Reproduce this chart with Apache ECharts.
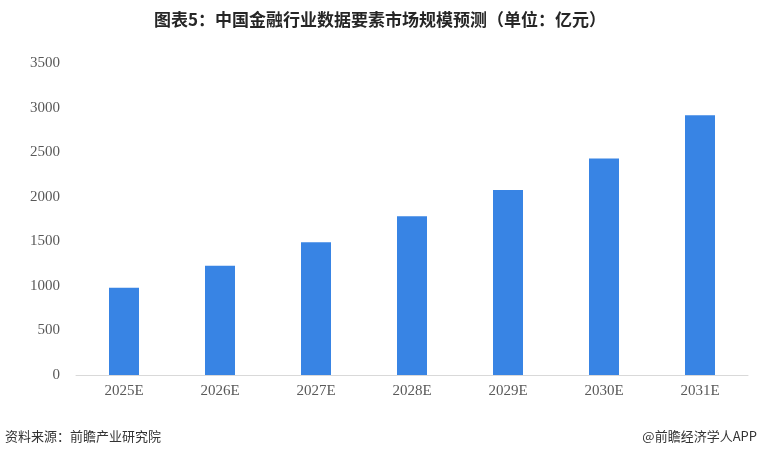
<!DOCTYPE html>
<html>
<head>
<meta charset="utf-8">
<script src="https://cdn.jsdelivr.net/npm/echarts@6/dist/echarts.min.js"></script>
<style>
  html, body { margin: 0; padding: 0; background: #fff; }
  #chart { width: 760px; height: 459px; }
</style>
</head>
<body>
<div id="chart"></div>
<script>
// 数据
const years = ['2025E', '2026E', '2027E', '2028E', '2029E', '2030E', '2031E']
const marketSize = [980, 1225, 1490, 1780, 2075, 2430, 2915]
const yTicks = [0, 3500, 500] // min, max, interval

const chart = echarts.init(document.getElementById('chart'))

const serif = '"Liberation Serif", "Times New Roman", serif'
const cjk = '"Noto Sans CJK SC", sans-serif'

const option = {
  animation: false,
  title: {
    text: '图表5：中国金融行业数据要素市场规模预测（单位：亿元）',
    left: 'center',
    top: 6,
    textStyle: { fontFamily: cjk, fontSize: 17, fontWeight: 'bold', color: '#262626' }
  },
  grid: { left: 76, right: 12, top: 63, bottom: 84 },
  xAxis: {
    type: 'category',
    data: years,
    axisTick: { show: false },
    axisLine: { lineStyle: { color: '#d9d9d9' } },
    axisLabel: { fontFamily: serif, fontSize: 15, color: '#595959', margin: 9 }
  },
  yAxis: {
    type: 'value',
    min: yTicks[0],
    max: yTicks[1],
    interval: yTicks[2],
    splitLine: { show: false },
    axisLine: { show: false },
    axisTick: { show: false },
    axisLabel: {
      fontFamily: serif, fontSize: 15, color: '#595959', margin: 16,
      formatter: v => String(v)
    }
  },
  series: [{
    type: 'bar',
    data: marketSize,
    barWidth: 30,
    itemStyle: { color: '#3884E4' }
  }],
  graphic: [
    {
      type: 'text', left: 5, top: 430,
      style: { text: '资料来源：前瞻产业研究院', fontFamily: cjk, fontSize: 13, fill: '#333' }
    },
    {
      type: 'text', right: 3, top: 430,
      style: { text: '@前瞻经济学人APP', fontFamily: cjk, fontSize: 13, fill: '#333' }
    }
  ]
}

chart.setOption(option)
</script>
</body>
</html>
